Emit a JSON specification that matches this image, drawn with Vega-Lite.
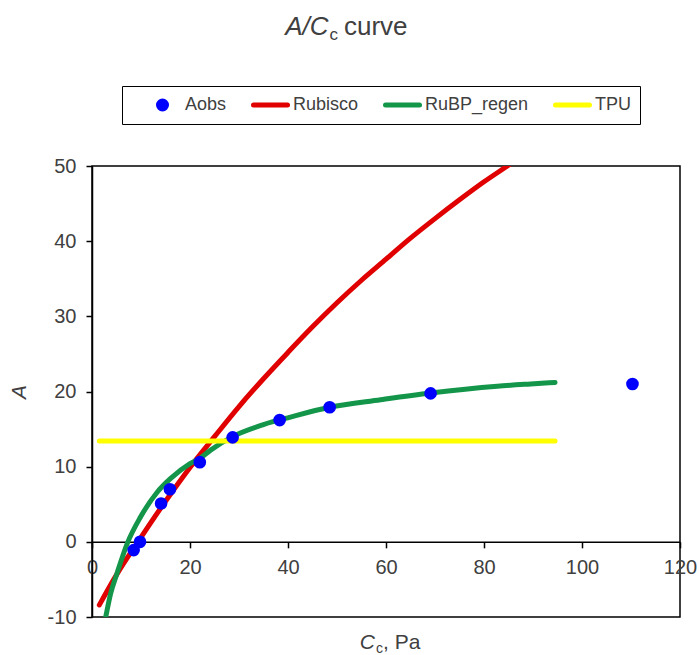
{
  "$schema": "https://vega.github.io/schema/vega-lite/v6.json",
  "autosize": "none",
  "padding": {"left": 92, "top": 166, "right": 19, "bottom": 38},
  "width": 588,
  "height": 451,
  "background": "white",
  "config": {
    "font": "Liberation Sans",
    "view": {"stroke": "black", "strokeWidth": 1.5},
    "axis": {"grid": false}
  },
  "data": {
    "values": [
      {"series": "Rubisco", "Cc": 1.5, "A": -8.4},
      {"series": "Rubisco", "Cc": 5, "A": -4.4},
      {"series": "Rubisco", "Cc": 10, "A": 0.6},
      {"series": "Rubisco", "Cc": 15, "A": 5.4},
      {"series": "Rubisco", "Cc": 20, "A": 9.9},
      {"series": "Rubisco", "Cc": 25, "A": 14.0},
      {"series": "Rubisco", "Cc": 30, "A": 18.0},
      {"series": "Rubisco", "Cc": 35, "A": 21.7},
      {"series": "Rubisco", "Cc": 40, "A": 25.2},
      {"series": "Rubisco", "Cc": 45, "A": 28.6},
      {"series": "Rubisco", "Cc": 50, "A": 31.8},
      {"series": "Rubisco", "Cc": 55, "A": 34.8},
      {"series": "Rubisco", "Cc": 60, "A": 37.6},
      {"series": "Rubisco", "Cc": 65, "A": 40.4},
      {"series": "Rubisco", "Cc": 70, "A": 43.0},
      {"series": "Rubisco", "Cc": 75, "A": 45.5},
      {"series": "Rubisco", "Cc": 80, "A": 47.9},
      {"series": "Rubisco", "Cc": 85, "A": 50.1},
      {"series": "Rubisco", "Cc": 90, "A": 52.3},
      {"series": "Rubisco", "Cc": 94.5, "A": 54.2},
      {"series": "RuBP_regen", "Cc": 2.0, "A": -12.6},
      {"series": "RuBP_regen", "Cc": 2.8, "A": -10.0},
      {"series": "RuBP_regen", "Cc": 3.8, "A": -6.9},
      {"series": "RuBP_regen", "Cc": 5.1, "A": -4.2},
      {"series": "RuBP_regen", "Cc": 7.2, "A": -0.2},
      {"series": "RuBP_regen", "Cc": 9.9, "A": 3.3},
      {"series": "RuBP_regen", "Cc": 13.3, "A": 6.6},
      {"series": "RuBP_regen", "Cc": 16.0, "A": 8.4},
      {"series": "RuBP_regen", "Cc": 20.0, "A": 10.4},
      {"series": "RuBP_regen", "Cc": 22.0, "A": 11.1},
      {"series": "RuBP_regen", "Cc": 24.2, "A": 12.2},
      {"series": "RuBP_regen", "Cc": 28.7, "A": 14.0},
      {"series": "RuBP_regen", "Cc": 35.0, "A": 15.6},
      {"series": "RuBP_regen", "Cc": 40.5, "A": 16.6},
      {"series": "RuBP_regen", "Cc": 48.5, "A": 17.9},
      {"series": "RuBP_regen", "Cc": 58.9, "A": 18.9},
      {"series": "RuBP_regen", "Cc": 69.1, "A": 19.8},
      {"series": "RuBP_regen", "Cc": 82.7, "A": 20.7},
      {"series": "RuBP_regen", "Cc": 89.5, "A": 21.0},
      {"series": "RuBP_regen", "Cc": 94.5, "A": 21.2},
      {"series": "TPU", "Cc": 1.5, "A": 13.4},
      {"series": "TPU", "Cc": 94.5, "A": 13.4},
      {"series": "Aobs", "Cc": 8.5, "A": -1.1},
      {"series": "Aobs", "Cc": 9.8, "A": 0.0},
      {"series": "Aobs", "Cc": 14.1, "A": 5.1},
      {"series": "Aobs", "Cc": 15.9, "A": 7.0},
      {"series": "Aobs", "Cc": 22.0, "A": 10.6},
      {"series": "Aobs", "Cc": 28.7, "A": 13.9},
      {"series": "Aobs", "Cc": 38.3, "A": 16.2},
      {"series": "Aobs", "Cc": 48.5, "A": 17.9},
      {"series": "Aobs", "Cc": 69.1, "A": 19.75},
      {"series": "Aobs", "Cc": 110.3, "A": 21.0}
    ]
  },
  "layer": [
    {
      "transform": [{"filter": "datum.series !== 'Aobs'"}],
      "mark": {"type": "line", "strokeWidth": 5, "strokeCap": "round", "strokeJoin": "round", "interpolate": "monotone", "clip": true},
      "encoding": {
        "x": {
          "field": "Cc", "type": "quantitative",
          "scale": {"domain": [0, 120], "nice": false, "zero": false},
          "axis": {
            "values": [0, 20, 40, 60, 80, 100, 120],
            "offset": -75.17,
            "title": null,
            "domainColor": "black", "domainWidth": 1.5,
            "tickColor": "black", "tickWidth": 1.5, "tickSize": 6,
            "labelFontSize": 20, "labelColor": "#404040", "labelPadding": 10,
            "labelFlush": false, "labelOverlap": false
          }
        },
        "y": {
          "field": "A", "type": "quantitative",
          "scale": {"domain": [-10, 50], "nice": false, "zero": false},
          "axis": {
            "values": [-10, 0, 10, 20, 30, 40, 50],
            "labelExpr": "'' + datum.value",
            "title": "A",
            "titleFontStyle": "italic", "titleFontWeight": "normal",
            "titleFontSize": 21, "titleColor": "#404040", "titlePadding": 18,
            "domainColor": "black", "domainWidth": 1.5,
            "tickColor": "black", "tickWidth": 1.5, "tickSize": 6,
            "labelFontSize": 20, "labelColor": "#404040", "labelPadding": 10,
            "labelFlush": false, "labelOverlap": false
          }
        },
        "color": {
          "field": "series", "type": "nominal",
          "scale": {
            "domain": ["Aobs", "Rubisco", "RuBP_regen", "TPU"],
            "range": ["#0000FF", "#E00000", "#13964A", "#FFFF00"]
          },
          "legend": {
            "orient": "none", "legendX": 30, "legendY": -80,
            "direction": "horizontal",
            "title": " ", "titleOrient": "left", "titlePadding": 12, "titleFontSize": 18,
            "strokeColor": "black", "padding": 9,
            "columnPadding": 24, "clipHeight": 20,
            "symbolSize": 1156,
            "labelFontSize": 18, "labelColor": "#404040", "labelOffset": 3,
            "encode": {
              "symbols": {
                "update": {
                  "shape": {"signal": "datum.value === 'Aobs' ? 'circle' : 'stroke'"},
                  "size": {"signal": "datum.value === 'Aobs' ? 64 : 1156"},
                  "fill": {"signal": "datum.value === 'Aobs' ? '#0000FF' : 'transparent'"},
                  "stroke": {"signal": "datum.value === 'Aobs' ? '#0000FF' : datum.value === 'Rubisco' ? '#E00000' : datum.value === 'RuBP_regen' ? '#13964A' : '#FFFF00'"},
                  "strokeWidth": {"value": 5},
                  "strokeCap": {"value": "round"},
                  "opacity": {"value": 1}
                }
              }
            }
          }
        }
      }
    },
    {
      "transform": [{"filter": "datum.series === 'Aobs'"}],
      "mark": {"type": "point", "shape": "circle", "filled": true, "size": 160, "opacity": 1},
      "encoding": {
        "x": {"field": "Cc", "type": "quantitative"},
        "y": {"field": "A", "type": "quantitative"},
        "color": {"field": "series", "type": "nominal"}
      }
    },
    {
      "data": {"values": [{}]},
      "mark": {"type": "text", "text": "A/C", "fontStyle": "italic", "fontSize": 26, "align": "right", "baseline": "alphabetic", "color": "#404040"},
      "encoding": {"x": {"datum": 48.265}, "y": {"datum": 67.43}}
    },
    {
      "data": {"values": [{}]},
      "mark": {"type": "text", "text": "c", "fontSize": 17, "align": "left", "baseline": "alphabetic", "dx": 1, "dy": 5, "color": "#404040"},
      "encoding": {"x": {"datum": 48.265}, "y": {"datum": 67.43}}
    },
    {
      "data": {"values": [{}]},
      "mark": {"type": "text", "text": "curve", "fontSize": 26, "align": "left", "baseline": "alphabetic", "dx": 15.5, "color": "#404040"},
      "encoding": {"x": {"datum": 48.265}, "y": {"datum": 67.43}}
    },
    {
      "data": {"values": [{}]},
      "mark": {"type": "text", "text": "C", "fontStyle": "italic", "fontSize": 21, "align": "right", "baseline": "alphabetic", "color": "#404040"},
      "encoding": {"x": {"datum": 57.755}, "y": {"datum": -14.26}}
    },
    {
      "data": {"values": [{}]},
      "mark": {"type": "text", "text": "c", "fontSize": 14, "align": "left", "baseline": "alphabetic", "dx": 1, "dy": 4, "color": "#404040"},
      "encoding": {"x": {"datum": 57.755}, "y": {"datum": -14.26}}
    },
    {
      "data": {"values": [{}]},
      "mark": {"type": "text", "text": ", Pa", "fontSize": 21, "align": "left", "baseline": "alphabetic", "dx": 8, "color": "#404040"},
      "encoding": {"x": {"datum": 57.755}, "y": {"datum": -14.26}}
    }
  ]
}
